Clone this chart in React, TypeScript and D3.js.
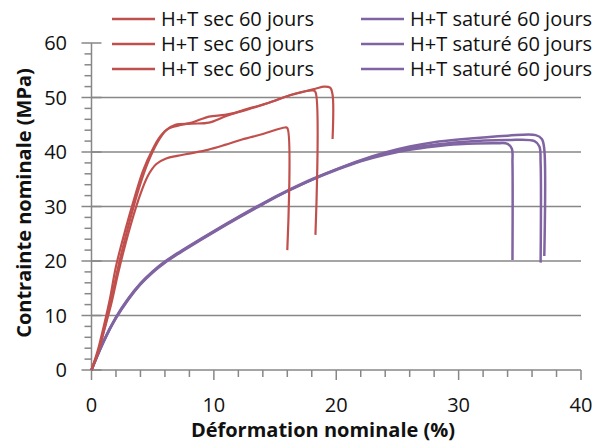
import React, { useEffect, useRef } from 'react';
import * as d3 from 'd3';

type Pt = [number, number];

// Essais secs (rouge)
const sec1: Pt[] = [
  [0, 0], [0.5, 3], [1.0, 7], [1.6, 12], [2.2, 18], [3.0, 25], [3.8, 31], [4.6, 35.6],
  [5.3, 37.8], [6.1, 38.8], [7.0, 39.3], [8.2, 39.8], [9.5, 40.4], [10.9, 41.3],
  [12.3, 42.3], [14.0, 43.3], [15.8, 44.5], [16.0, 44.4], [16.0, 22.0],
];
const sec2: Pt[] = [
  [0, 0], [0.5, 3.5], [1.0, 8], [1.5, 13], [2.0, 19], [2.8, 26], [3.5, 31.5], [4.2, 36.5],
  [5.0, 40.5], [5.6, 42.8], [6.3, 44.3], [7.0, 44.8], [8.2, 45.4], [9.6, 46.5],
  [10.9, 46.8], [12.3, 47.5], [14.3, 48.9], [16.5, 50.6], [18.1, 51.3], [18.3, 51.0], [18.3, 24.8],
];
const sec3: Pt[] = [
  [0, 0], [0.5, 3], [1.1, 8], [1.7, 14], [2.4, 21], [3.2, 28], [3.9, 33.5], [4.6, 38],
  [5.4, 41.8], [6.1, 44], [6.85, 45], [8.2, 45.2], [9.6, 45.4], [10.9, 46.5], [12.3, 47.6],
  [14.3, 48.9], [16.5, 50.6], [18.3, 51.6], [19.0, 52.0], [19.5, 51.8], [19.7, 50.5], [19.7, 42.4],
];

// Essais saturés (violet)
const sat1: Pt[] = [
  [0, 0], [1, 5.3], [2, 9.6], [3, 13.0], [4, 15.8], [5, 18.0], [6, 19.8], [7, 21.3],
  [8, 22.7], [10, 25.4], [12, 28.0], [14, 30.5], [16, 32.8], [18, 34.9], [20, 36.7],
  [22, 38.3], [24, 39.5], [26, 40.4], [28, 41.0], [30, 41.4], [33, 41.6], [34.0, 41.5],
  [34.35, 40.6], [34.4, 38], [34.4, 20.2],
];
const sat2: Pt[] = [
  [0, 0], [1, 5.4], [2, 9.7], [3, 13.1], [4, 15.9], [5, 18.1], [6, 19.9], [7, 21.4],
  [8, 22.8], [10, 25.5], [12, 28.1], [14, 30.6], [16, 32.9], [18, 35.0], [20, 36.8],
  [22, 38.4], [24, 39.7], [26, 40.7], [28, 41.3], [30, 41.8], [34, 42.2], [36.2, 42.0],
  [36.6, 41.0], [36.7, 38], [36.7, 19.7],
];
const sat3: Pt[] = [
  [0, 0], [1, 5.2], [2, 9.5], [3, 12.9], [4, 15.7], [5, 17.9], [6, 19.7], [7, 21.2],
  [8, 22.6], [10, 25.3], [12, 27.9], [14, 30.4], [16, 32.8], [18, 34.9], [20, 36.8],
  [22, 38.5], [24, 39.9], [26, 41.0], [28, 41.8], [30, 42.3], [34, 43.0], [36.3, 43.1],
  [36.8, 42.4], [37.0, 40.5], [37.0, 20.9],
];

const secSeries = [sec1, sec2, sec3];
const satSeries = [sat1, sat2, sat3];
const secLabels = ['H+T sec 60 jours', 'H+T sec 60 jours', 'H+T sec 60 jours'];
const satLabels = ['H+T saturé 60 jours', 'H+T saturé 60 jours', 'H+T saturé 60 jours'];

const xTicks = [0, 10, 20, 30, 40];
const yTicks = [0, 10, 20, 30, 40, 50, 60];

const RED = '#C0504D';
const PURPLE = '#8064A2';
const AXIS = '#878787';
const FONT = '"Open Sans", sans-serif';

const App: React.FC = () => {
  const svgRef = useRef<SVGSVGElement>(null);
  const width = 603;
  const height = 443;

  useEffect(() => {
    if (!svgRef.current) return;
    const svg = d3.select(svgRef.current);
    svg.selectAll('*').remove();

    const x = d3.scaleLinear().domain([0, 40]).range([91.5, 581]);
    const y = d3.scaleLinear().domain([0, 60]).range([370, 43]);

    svg.append('rect').attr('width', width).attr('height', height).attr('fill', '#fff');

    // gridlines
    svg.append('g')
      .selectAll('line')
      .data(yTicks.filter(t => t > 0 && t < 60))
      .enter()
      .append('line')
      .attr('x1', x(0))
      .attr('x2', x(40))
      .attr('y1', d => y(d))
      .attr('y2', d => y(d))
      .attr('stroke', AXIS)
      .attr('stroke-width', 1.5);

    // minor ticks
    const minorY = d3.range(0, 61, 2).filter(v => v % 10 !== 0);
    svg.append('g')
      .selectAll('line')
      .data(minorY)
      .enter()
      .append('line')
      .attr('x1', x(0) - 7)
      .attr('x2', x(0))
      .attr('y1', d => y(d))
      .attr('y2', d => y(d))
      .attr('stroke', AXIS)
      .attr('stroke-width', 1.5);

    const minorX = d3.range(0, 41, 2).filter(v => v % 10 !== 0);
    svg.append('g')
      .selectAll('line')
      .data(minorX)
      .enter()
      .append('line')
      .attr('x1', d => x(d))
      .attr('x2', d => x(d))
      .attr('y1', y(0))
      .attr('y2', y(0) + 7)
      .attr('stroke', AXIS)
      .attr('stroke-width', 1.5);

    // major ticks
    svg.append('g')
      .selectAll('line')
      .data(yTicks)
      .enter()
      .append('line')
      .attr('x1', x(0) - 10)
      .attr('x2', x(0) + 10)
      .attr('y1', d => y(d))
      .attr('y2', d => y(d))
      .attr('stroke', AXIS)
      .attr('stroke-width', 1.5);

    svg.append('g')
      .selectAll('line')
      .data(xTicks)
      .enter()
      .append('line')
      .attr('x1', d => x(d))
      .attr('x2', d => x(d))
      .attr('y1', y(0))
      .attr('y2', y(0) + 10)
      .attr('stroke', AXIS)
      .attr('stroke-width', 1.5);

    // axis lines
    svg.append('line')
      .attr('x1', x(0)).attr('x2', x(0))
      .attr('y1', y(60)).attr('y2', y(0))
      .attr('stroke', AXIS).attr('stroke-width', 1.5);
    svg.append('line')
      .attr('x1', x(0)).attr('x2', x(40))
      .attr('y1', y(0)).attr('y2', y(0))
      .attr('stroke', AXIS).attr('stroke-width', 1.5);

    // tick labels
    svg.append('g')
      .selectAll('text')
      .data(yTicks)
      .enter()
      .append('text')
      .attr('x', 67)
      .attr('y', d => y(d))
      .attr('dy', '0.36em')
      .attr('text-anchor', 'end')
      .attr('font-family', FONT)
      .attr('font-size', '20px')
      .attr('fill', '#111')
      .text(d => d);

    svg.append('g')
      .selectAll('text')
      .data(xTicks)
      .enter()
      .append('text')
      .attr('x', d => x(d))
      .attr('y', 412)
      .attr('text-anchor', 'middle')
      .attr('font-family', FONT)
      .attr('font-size', '20px')
      .attr('fill', '#111')
      .text(d => d);

    // axis titles
    svg.append('text')
      .attr('x', 323)
      .attr('y', 437)
      .attr('text-anchor', 'middle')
      .attr('font-family', FONT)
      .attr('font-weight', 'bold')
      .attr('font-size', '20px')
      .attr('fill', '#111')
      .text('Déformation nominale (%)');

    svg.append('text')
      .attr('transform', 'translate(31,203) rotate(-90)')
      .attr('text-anchor', 'middle')
      .attr('font-family', FONT)
      .attr('font-weight', 'bold')
      .attr('font-size', '20px')
      .attr('fill', '#111')
      .text('Contrainte nominale (MPa)');

    // curves
    const line = d3.line<Pt>()
      .x(d => x(d[0]))
      .y(d => y(d[1]))
      .curve(d3.curveCatmullRom.alpha(0.5));

    const drawSeries = (data: Pt[][], color: string, w: number) => {
      svg.append('g')
        .selectAll('path')
        .data(data)
        .enter()
        .append('path')
        .attr('d', d => line(d) || '')
        .attr('fill', 'none')
        .attr('stroke', color)
        .attr('stroke-width', w)
        .attr('stroke-linejoin', 'round');
    };
    drawSeries(satSeries, PURPLE, 2.5);
    drawSeries(secSeries, RED, 2.2);

    // legend
    const rowY = [19, 44, 69];
    const legend = svg.append('g');
    const addLegendCol = (labels: string[], color: string, lx: number) => {
      labels.forEach((label, i) => {
        legend.append('line')
          .attr('x1', lx)
          .attr('x2', lx + 43)
          .attr('y1', rowY[i])
          .attr('y2', rowY[i])
          .attr('stroke', color)
          .attr('stroke-width', 2.5);
        legend.append('text')
          .attr('x', lx + 49)
          .attr('y', rowY[i])
          .attr('dy', '0.36em')
          .attr('font-family', FONT)
          .attr('font-size', '20px')
          .attr('fill', '#111')
          .text(label);
      });
    };
    addLegendCol(secLabels, RED, 112);
    addLegendCol(satLabels, PURPLE, 361);
  }, []);

  return (
    <svg
      ref={svgRef}
      width={width}
      height={height}
      style={{ position: 'absolute', left: 0, top: 0 }}
    />
  );
};

export default App;
